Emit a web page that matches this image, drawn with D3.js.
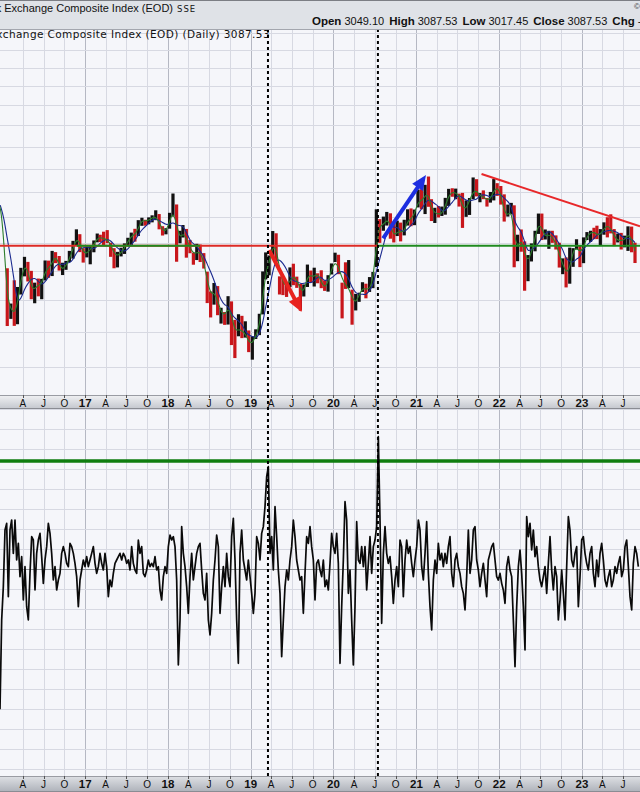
<!DOCTYPE html>
<html><head><meta charset="utf-8">
<script src="https://cdn.jsdelivr.net/npm/d3@7/dist/d3.min.js"></script>
<style>html,body{margin:0;padding:0;background:#fff;overflow:hidden}svg{display:block}</style>
</head><body>
<svg id="chart" width="640" height="792"></svg>
<script>
// ================= DATA =================
const titleText = "Shanghai Stock Exchange Composite Index (EOD)";
const exchangeText = "SSE";
const panelTitle = "Shanghai Stock Exchange Composite Index (EOD) (Daily) 3087.53";
const copyrightText = "© StockCharts.com";
const quoteLabels = ["Open", "High", "Low", "Close", "Chg"];
const quoteValues = ["3049.10", "3087.53", "3017.45", "3087.53", "-"];
const monthLetters = {3: "A", 6: "J", 9: "O"};

// closes before the visible window (for the moving averages)
const priorDates  = ["2015-10-23", "2015-11-08", "2015-11-23", "2015-12-08", "2015-12-23", "2016-01-08"];
const priorCloses = [3383, 3580, 3445, 3510, 3539, 2901];

// half-month bars [high, low, close]; 1st half dated the 8th, 2nd half the 23rd
const bars2016 = [ // starts with 2nd half of January
  [3016,2638,2738],[2779,2682,2746],[2933,2639,2688],[2888,2649,2864],[3019,2838,3004],
  [3097,2960,3066],[3061,2925,2938],[2998,2807,2827],[2917,2781,2917],[2945,2826,2887],
  [2943,2807,2930],[3071,2932,3054],[3070,2950,2979],[3140,2962,3125],[3131,3052,3085],
  [3103,3000,3003],[3055,2969,3005],[3068,3005,3063],[3140,3060,3100],[3214,3084,3210],
  [3301,3180,3250],[3264,3131,3155],[3160,3056,3104]];
const bars2017 = [
  [3172,3093,3137],[3180,3044,3159],[3217,3130,3217],[3269,3203,3242],[3260,3205,3239],
  [3283,3176,3223],[3295,3197,3222],[3200,3097,3155],[3160,3016,3090],[3133,3022,3117],
  [3163,3100,3132],[3195,3118,3192],[3237,3180,3222],[3276,3176,3273],[3305,3208,3251],
  [3372,3250,3360],[3391,3328,3384],[3375,3329,3348],[3394,3340,3391],[3410,3355,3393],
  [3450,3372,3402],[3420,3301,3317],[3325,3254,3266],[3310,3263,3307]];
const bars2018 = [
  [3430,3306,3410],[3587,3400,3480],[3497,3062,3199],[3290,3196,3259],[3334,3239,3291],
  [3304,3091,3169],[3221,3123,3159],[3127,3041,3082],[3192,3074,3170],[3187,3060,3095],
  [3124,3014,3022],[2992,2782,2847],[2858,2691,2831],[2915,2772,2876],[2894,2705,2723],
  [2752,2653,2725],[2725,2645,2681],[2827,2647,2821],[2793,2524,2606],[2676,2449,2603],
  [2711,2576,2632],[2701,2565,2588],[2667,2568,2594],[2611,2483,2494]];
const bars2019 = [
  [2575,2440,2570],[2618,2560,2585],[2714,2583,2682],[2994,2710,2941],[3129,2939,3021],
  [3107,2967,3091],[3288,3089,3253],[3271,3060,3078],[2960,2838,2938],[2953,2834,2898],
  [2918,2822,2882],[3022,2887,2979],[3048,2900,2942],[2958,2882,2933],[2908,2733,2815],
  [2905,2825,2886],[3042,2888,3031],[3000,2917,2905],[3020,2891,3007],[2981,2913,2954],
  [3002,2880,2891],[2933,2862,2872],[2968,2857,2968],[3050,2973,3050]];
const bars2020 = [
  [3127,3060,3074],[3112,2975,2976],[2917,2685,2917],[3058,2875,2880],[3074,2880,2887],
  [2870,2646,2750],[2842,2735,2811],[2850,2790,2860],[2920,2855,2898],[2910,2813,2852],
  [2955,2855,2890],[2990,2880,2985],[3458,3025,3361],[3380,3199,3310],[3400,3290,3360],
  [3437,3330,3396],[3426,3230,3283],[3355,3202,3218],[3368,3250,3340],[3353,3210,3225],
  [3375,3255,3339],[3458,3330,3392],[3465,3325,3367],[3456,3333,3473]];
const bars2021 = [
  [3620,3473,3566],[3623,3458,3483],[3660,3420,3655],[3731,3478,3509],[3540,3365,3419],
  [3470,3350,3441],[3484,3393,3398],[3480,3405,3447],[3551,3415,3517],[3626,3485,3615],
  [3631,3560,3589],[3628,3540,3591],[3586,3480,3564],[3592,3312,3397],[3530,3398,3517],
  [3550,3413,3544],[3723,3540,3656],[3708,3563,3568],[3591,3515,3572],[3613,3540,3547],
  [3550,3480,3521],[3600,3512,3564],[3709,3530,3647],[3674,3567,3640]];
const bars2022 = [
  [3650,3496,3521],[3580,3361,3362],[3496,3400,3447],[3510,3418,3462],[3490,3023,3064],
  [3260,3066,3252],[3300,3134,3211],[3210,2863,3047],[3110,2927,3073],[3195,3064,3186],
  [3290,3137,3285],[3424,3266,3398],[3424,3220,3228],[3300,3224,3253],[3290,3155,3276],
  [3290,3199,3202],[3255,3150,3199],[3200,3021,3024],[3086,2975,3071],[3093,2885,2893],
  [3164,2910,3134],[3160,3026,3151],[3226,3151,3176],[3180,3024,3089]];
const bars2023 = [
  [3240,3052,3228],[3280,3220,3269],[3290,3206,3280],[3313,3227,3279],[3329,3227,3245],
  [3303,3180,3273],[3355,3260,3338],[3395,3240,3323],[3418,3270,3293],[3303,3175,3205],
  [3269,3202,3229],[3274,3150,3202],[3253,3166,3237],[3324,3140,3291],[3322,3130,3176],
  [3200,3053,3100]];

// lower panel oscillator, weekly readings
const oscStart = "2015-12-22";
const oscStepDays = 7.3517;
const oscValuesA = [
  -420,-152,-52,118,138,-82,118,148,48,148, 28,78,-22,38,-92,8,-112,-152,-12,98,
  88,-62,48,88,108,38,-42,28,68,138, 108,48,-32,8,-62,-32,-12,48,68,48,
  18,8,78,68,48,18,-22,-112,-32,-2, 28,8,38,8,28,48,68,18,-12,8,
  48,18,-2,48,8,-82,-32,-52,-12,18, 28,38,48,28,48,38,18,28,-2,68,
  18,-2,-12,88,48,68,-12,-22,-2,28, 8,18,8,38,-2,8,-62,-92,-22,8,
  -12,68,103,88,98,68,-32,-287,-152,128, 48,8,-52,-132,-22,48,-32,8,48,68,
  78,-2,-72,-92,-12,-152,-197,-132,-32,28, 103,68,-132,-52,8,-52,48,-22,-52,98,
  153,28,-152,-282,48,118,28,-2,-32,28, -22,-72,-132,-72,98,78,28,108,128,188,
  278,308,48,98,-2,188,98,-2,-72,-262, -152,-52,-2,-32,28,68,148,98,28,-2,
  -32,-22,-132,-12,98,78,128,68,28,-92, 18,28];
const oscValuesB = [
  -2,-22,28,-52,-32,-62,18,108,68,48, 108,18,-282,-112,28,203,148,-72,-2,-152,
  -287,-112,143,28,18,68,8,68,-62,18, 98,-12,68,88,128,398,148,-162,48,128,
  48,18,38,-22,-102,-32,8,-52,88,68, -82,28,88,48,68,18,-22,28,68,148,
  118,8,-32,48,143,-12,-112,-182,-32,28, -12,78,28,48,8,48,18,68,98,-12,
  -52,28,48,8,-12,-52,-72,-122,-22,118, -12,28,118,128,28,-2,-52,-12,18,-32,
  -82,28,48,68,78,28,-22,-32,-12,-42, -62,-102,8,38,-2,-22,-152,-292,-112,8,
  58,-12,-112,-242,158,98,138,58,118,38, 68,8,-32,-52,-22,8,-72,18,98,-2,
  -62,8,-22,-152,-92,-2,-72,-152,8,158, 118,28,8,48,68,-112,-22,88,98,48,
  18,-2,48,68,-12,-52,28,-22,48,78, 28,-32,-52,-22,-2,-52,-32,8,-12,18,
  38,-22,-2,68,88,8,-82,-122,18,68, 48,8];
const oscThreshold = 325;

// annotations
const markerDates = ["2019-03-18", "2020-07-15"];
const supportLevel = 3178;
const redLevelSpans = [["2015-12-22", "2020-07-15"]];
const greenLevelSpans = [["2016-11-25", "2018-05-22"], ["2020-07-15", "2023-09-14"]];
const trendLine = [["2021-10-15", 3753], ["2023-09-14", 3324]];
const blueArrow = [["2020-08-07", 3233], ["2021-02-12", 3745]];
const redArrow = [["2019-03-23", 3146], ["2019-08-13", 2725]];

// ================= CHART =================
const parse = d3.timeParse("%Y-%m-%d");
const W = 640;
const P = {top: 29, bottom: 395};
const S1 = {top: 395, bottom: 409};
const O = {top: 409, bottom: 776};
const S2 = {top: 776, bottom: 792};

const x = d3.scaleTime().domain([parse("2015-12-22"), parse("2023-09-14")]).range([0, W]);
const yP = d3.scaleLog().domain([2248, 5253]).range([P.bottom, P.top]);
const yO = d3.scaleLinear().domain([-620, 481]).range([O.bottom, O.top]);

const svg = d3.select("#chart");
const defs = svg.append("defs");
defs.append("clipPath").attr("id", "clipP").append("rect").attr("x", 0).attr("y", P.top).attr("width", W).attr("height", P.bottom - P.top);
defs.append("clipPath").attr("id", "clipO").append("rect").attr("x", 0).attr("y", O.top).attr("width", W).attr("height", O.bottom - O.top);
const g1 = defs.append("linearGradient").attr("id", "strip").attr("x1", 0).attr("x2", 0).attr("y1", 0).attr("y2", 1);
g1.append("stop").attr("offset", "0%").attr("stop-color", "#f1f2f4");
g1.append("stop").attr("offset", "100%").attr("stop-color", "#c3c6cd");
const g2 = defs.append("linearGradient").attr("id", "strip2").attr("x1", 0).attr("x2", 0).attr("y1", 0).attr("y2", 1);
g2.append("stop").attr("offset", "0%").attr("stop-color", "#dfe1e5");
g2.append("stop").attr("offset", "100%").attr("stop-color", "#adb1b9");

// backgrounds
svg.append("rect").attr("x", 0).attr("y", 0).attr("width", W).attr("height", 792).attr("fill", "#ffffff");
svg.append("rect").attr("x", 0).attr("y", P.top).attr("width", W).attr("height", P.bottom - P.top).attr("fill", "#f5f6fa");
svg.append("rect").attr("x", 0).attr("y", O.top).attr("width", W).attr("height", O.bottom - O.top).attr("fill", "#f5f6fa");

// quarters
const quarters = d3.timeMonth.every(3).range(parse("2016-01-01"), parse("2024-01-01"))
  .filter(d => x(d) >= 8 && x(d) <= 650);

// vertical grid
const grid = svg.append("g");
[[P.top, P.bottom], [O.top, O.bottom]].forEach(([t, b]) => {
  grid.selectAll(null).data(quarters).join("line")
    .attr("x1", d => Math.round(x(d)) + 0.5).attr("x2", d => Math.round(x(d)) + 0.5)
    .attr("y1", t).attr("y2", b)
    .attr("stroke", d => d.getMonth() === 0 ? "#b5b8c3" : "#d7d9e2").attr("stroke-width", 1);
});
// horizontal grid
grid.selectAll(null).data(d3.range(2400, 5201, 200)).join("line")
  .attr("x1", 0).attr("x2", W)
  .attr("y1", d => Math.round(yP(d)) + 0.5).attr("y2", d => Math.round(yP(d)) + 0.5)
  .attr("stroke", "#d7d9e2");
grid.selectAll(null).data(d3.range(-600, 481, 60).filter(v => v !== 0)).join("line")
  .attr("x1", 0).attr("x2", W)
  .attr("y1", d => Math.round(yO(d)) + 0.5).attr("y2", d => Math.round(yO(d)) + 0.5)
  .attr("stroke", "#d7d9e2");
grid.append("line").attr("x1", 0).attr("x2", W)
  .attr("y1", Math.round(yO(0)) + 0.5).attr("y2", Math.round(yO(0)) + 0.5)
  .attr("stroke", "#8e9096").attr("stroke-width", 1);

// ---------- price panel ----------
const bars = [];
[[2016, bars2016, 1], [2017, bars2017, 0], [2018, bars2018, 0], [2019, bars2019, 0],
 [2020, bars2020, 0], [2021, bars2021, 0], [2022, bars2022, 0], [2023, bars2023, 0]]
 .forEach(([yr, arr, startHalf]) => arr.forEach((b, k) => {
   const h = k + startHalf;
   bars.push({date: new Date(yr, Math.floor(h / 2), h % 2 ? 23 : 8), high: b[0], low: b[1], close: b[2]});
 }));

const allPts = priorDates.map((d, i) => ({date: parse(d), close: priorCloses[i]})).concat(bars);
function movingAvg(win) {
  const out = [];
  for (let i = win - 1; i < allPts.length; i++) {
    out.push({date: allPts[i].date, v: d3.mean(allPts.slice(i - win + 1, i + 1), d => d.close)});
  }
  return out;
}
const maFast = movingAvg(2), maSlow = movingAvg(5);

const pg = svg.append("g").attr("clip-path", "url(#clipP)");
let prev = priorCloses[priorCloses.length - 1];
const barData = bars.map(b => { const up = b.close >= prev; prev = b.close; return Object.assign({up}, b); });
pg.selectAll("rect.bar").data(barData).join("rect").attr("class", "bar")
  .attr("x", d => x(d.date) - 1.6).attr("width", 3.2)
  .attr("y", d => yP(d.high)).attr("height", d => Math.max(1, yP(d.low) - yP(d.high)))
  .attr("fill", d => d.up ? "#111111" : "#c8161b");

const maLine = d3.line().x(d => x(d.date)).y(d => yP(d.v)).curve(d3.curveBasis);
pg.append("path").datum(maSlow).attr("d", maLine).attr("fill", "none").attr("stroke", "#1b2a8f").attr("stroke-width", 1.1);
pg.append("path").datum(maFast).attr("d", maLine).attr("fill", "none").attr("stroke", "#2c7d2c").attr("stroke-width", 1.1);

// support / resistance levels
redLevelSpans.forEach(s => pg.append("line")
  .attr("x1", x(parse(s[0]))).attr("x2", x(parse(s[1])))
  .attr("y1", yP(supportLevel)).attr("y2", yP(supportLevel))
  .attr("stroke", "#dd2b25").attr("stroke-width", 2));
greenLevelSpans.forEach(s => pg.append("line")
  .attr("x1", x(parse(s[0]))).attr("x2", x(parse(s[1])))
  .attr("y1", yP(supportLevel)).attr("y2", yP(supportLevel))
  .attr("stroke", "#1e8a1e").attr("stroke-width", 2));
pg.append("line")
  .attr("x1", x(parse(trendLine[0][0]))).attr("y1", yP(trendLine[0][1]))
  .attr("x2", x(parse(trendLine[1][0]))).attr("y2", yP(trendLine[1][1]))
  .attr("stroke", "#e8282a").attr("stroke-width", 2);

function arrow(g, pts, color, width, headLen, headW) {
  const [p0, p1] = pts.map(d => [x(parse(d[0])), yP(d[1])]);
  const dx = p1[0] - p0[0], dy = p1[1] - p0[1], L = Math.hypot(dx, dy);
  const ux = dx / L, uy = dy / L, nx = -uy, ny = ux;
  const bx = p1[0] - ux * headLen, by = p1[1] - uy * headLen;
  g.append("line").attr("x1", p0[0]).attr("y1", p0[1]).attr("x2", bx + ux).attr("y2", by + uy)
    .attr("stroke", color).attr("stroke-width", width);
  g.append("path").attr("d", `M${p1[0]},${p1[1]}L${bx + nx * headW / 2},${by + ny * headW / 2}L${bx - nx * headW / 2},${by - ny * headW / 2}Z`)
    .attr("fill", color);
}
arrow(pg, blueArrow, "#1d2ee0", 4, 15, 13);
arrow(pg, redArrow, "#e8231f", 4, 15, 13);

// panel title
svg.append("text").attr("x", 270).attr("y", 38).attr("text-anchor", "end")
  .style("font-family", "'DejaVu Sans', Verdana, sans-serif").style("font-size", "10.5px")
  .style("letter-spacing", "0.4px").attr("fill", "#111")
  .text(panelTitle);

// ---------- oscillator panel ----------
const og = svg.append("g").attr("clip-path", "url(#clipO)");
const t0 = +parse(oscStart);
const osc = oscValuesA.concat(oscValuesB).map((v, i) => ({date: new Date(t0 + i * oscStepDays * 864e5), v}));
og.append("line").attr("x1", 0).attr("x2", W).attr("y1", yO(oscThreshold)).attr("y2", yO(oscThreshold))
  .attr("stroke", "#0f7d0f").attr("stroke-width", 3.5);
og.append("path").datum(osc)
  .attr("d", d3.line().x(d => x(d.date)).y(d => yO(d.v)))
  .attr("fill", "none").attr("stroke", "#0a0a0a").attr("stroke-width", 1.7).attr("stroke-linejoin", "round");

// ---------- axis strips ----------
function strip(s, fillId) {
  svg.append("rect").attr("x", 0).attr("y", s.top).attr("width", W).attr("height", s.bottom - s.top).attr("fill", `url(#${fillId})`);
  svg.append("line").attr("x1", 0).attr("x2", W).attr("y1", s.top + 0.5).attr("y2", s.top + 0.5).attr("stroke", "#9a9ca3");
  svg.append("line").attr("x1", 0).attr("x2", W).attr("y1", s.bottom - 0.5).attr("y2", s.bottom - 0.5).attr("stroke", "#8a8c93");
  const ax = svg.append("g");
  ax.selectAll(null).data(quarters).join("line")
    .attr("x1", d => Math.round(x(d)) + 0.5).attr("x2", d => Math.round(x(d)) + 0.5)
    .attr("y1", s.top).attr("y2", s.top + 3).attr("stroke", "#555");
  ax.selectAll(null).data(quarters).join("text")
    .attr("x", d => x(d)).attr("y", s.top + 11.5).attr("text-anchor", "middle")
    .style("font-family", "'Liberation Sans', Arial, sans-serif")
    .style("font-size", d => d.getMonth() === 0 ? "11.5px" : "10px")
    .style("font-weight", d => d.getMonth() === 0 ? "bold" : "normal")
    .attr("fill", "#111")
    .text(d => d.getMonth() === 0 ? d3.timeFormat("%y")(d) : monthLetters[d.getMonth()]);
}
strip(S1, "strip");
strip(S2, "strip2");

// dashed event markers
svg.selectAll("line.marker").data(markerDates).join("line").attr("class", "marker")
  .attr("x1", d => x(parse(d))).attr("x2", d => x(parse(d)))
  .attr("y1", P.top).attr("y2", O.bottom)
  .attr("stroke", "#000").attr("stroke-width", 2).attr("stroke-dasharray", "3,3");

// ---------- header ----------
svg.append("rect").attr("x", 0).attr("y", 0).attr("width", W).attr("height", P.top).attr("fill", "#dfe2e7");
svg.append("line").attr("x1", 0).attr("x2", W).attr("y1", 0.5).attr("y2", 0.5).attr("stroke", "#7c7e84");
svg.append("line").attr("x1", 0).attr("x2", W).attr("y1", P.top + 0.5).attr("y2", P.top + 0.5).attr("stroke", "#a3a6ae");
svg.append("text").attr("x", 173).attr("y", 12).attr("text-anchor", "end")
  .style("font-family", "'Liberation Sans', Arial, sans-serif").style("font-size", "11px").attr("fill", "#111")
  .text(titleText);
svg.append("text").attr("x", 177).attr("y", 12)
  .style("font-family", "'DejaVu Sans', Verdana, sans-serif").style("font-size", "8.5px").style("letter-spacing", "1px").attr("fill", "#111")
  .text(exchangeText);
svg.append("text").attr("x", 634).attr("y", 9)
  .style("font-family", "'Liberation Sans', Arial, sans-serif").style("font-size", "8px").attr("fill", "#333")
  .text(copyrightText);
const q = svg.append("text").attr("x", 312).attr("y", 25)
  .style("font-family", "'Liberation Sans', Arial, sans-serif").style("font-size", "11px").attr("fill", "#111");
quoteLabels.forEach((lab, i) => {
  q.append("tspan").attr("dx", i === 0 ? 0 : 5).style("font-weight", "bold").style("font-size", "11.5px").text(lab);
  q.append("tspan").attr("dx", 3).text(quoteValues[i]);
});
</script>
</body></html>
